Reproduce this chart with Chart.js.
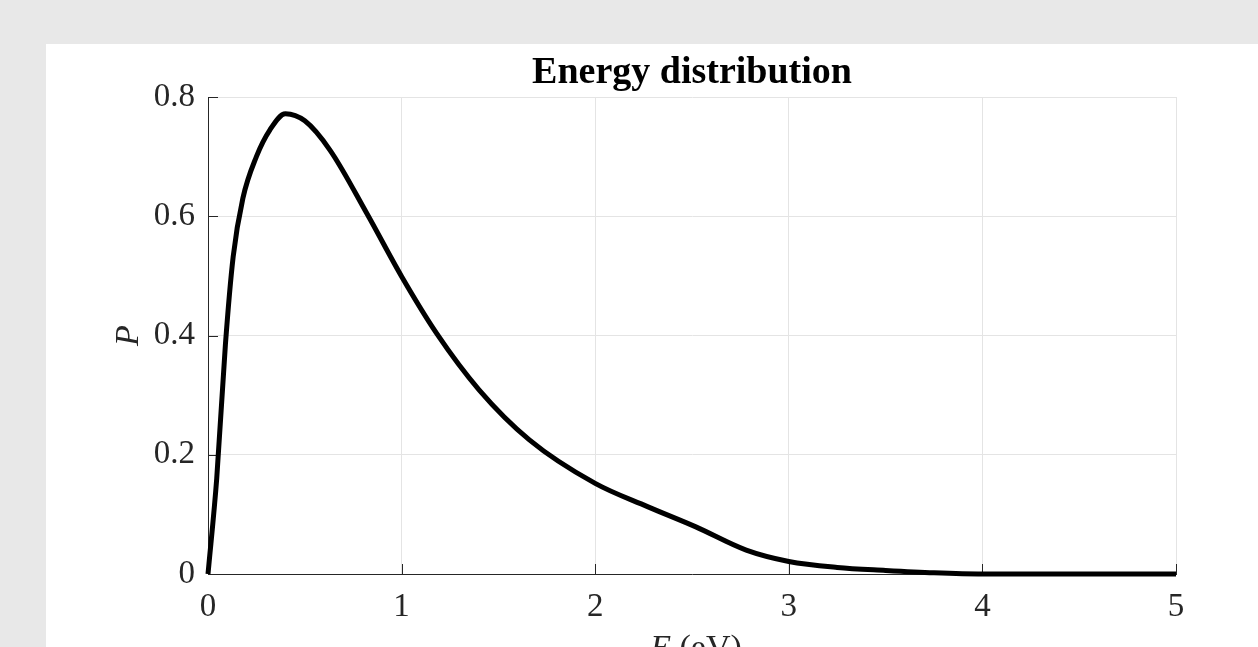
<!DOCTYPE html>
<html>
<head>
<meta charset="utf-8">
<script src="https://cdn.jsdelivr.net/npm/chart.js@4/dist/chart.umd.min.js"></script>
<style>
  html, body { margin: 0; padding: 0; overflow: hidden; background: #e8e8e8; }
  #fig { position: absolute; left: 46px; top: 44px; width: 1212px; height: 603px; background: #fff; }
</style>
</head>
<body>
<div id="fig"><canvas id="grafico" width="1212" height="603"></canvas></div>
<script>
// energy (eV) and probability
const energia = [0, 0.045, 0.09, 0.13, 0.18, 0.25, 0.32, 0.40, 0.50, 0.63, 0.82, 1.0, 1.18, 1.4, 1.66, 2.0, 2.27, 2.52, 2.78, 3.0, 3.25, 3.5, 3.75, 4.0, 4.5, 5.0];
const probabilidad = [0, 0.16, 0.385, 0.532, 0.63, 0.70, 0.745, 0.772, 0.76, 0.711, 0.605, 0.499, 0.404, 0.309, 0.225, 0.152, 0.113, 0.079, 0.040, 0.021, 0.011, 0.006, 0.002, 0, 0, 0];

const ticksX = [0, 1, 2, 3, 4, 5];
const ticksY = [0, 0.2, 0.4, 0.6, 0.8];

const titulo = 'Energy distribution';
const etiquetaX = ['E', ' (eV)'];
const etiquetaY = 'P';

const serif = '"Liberation Serif", "Times New Roman", serif';
const gris = '#262626';

// title, x label and inward tick marks
const extras = {
  id: 'extras',
  beforeDatasetsDraw(chart) {
    const { ctx, chartArea: a, scales } = chart;
    ctx.save();
    ctx.strokeStyle = gris;
    ctx.lineWidth = 1;
    ctx.beginPath();
    scales.x.ticks.forEach(t => {
      const px = Math.round(scales.x.getPixelForValue(t.value)) + 0.5;
      ctx.moveTo(px, a.bottom);
      ctx.lineTo(px, a.bottom - 10);
    });
    scales.y.ticks.forEach(t => {
      const py = Math.round(scales.y.getPixelForValue(t.value)) + 0.5;
      ctx.moveTo(a.left, py);
      ctx.lineTo(a.left + 10, py);
    });
    ctx.stroke();
    ctx.restore();
  },
  afterDraw(chart) {
    const { ctx, chartArea: a } = chart;
    const cx = (a.left + a.right) / 2;
    ctx.save();
    ctx.fillStyle = '#000';
    ctx.textBaseline = 'alphabetic';
    ctx.textAlign = 'center';
    ctx.font = 'bold 38px ' + serif;
    ctx.fillText(titulo, cx, 39);

    // x label: italic symbol then unit
    ctx.fillStyle = gris;
    ctx.textAlign = 'left';
    const fItal = 'italic 34px ' + serif;
    const fNorm = '34px ' + serif;
    ctx.font = fItal;
    const w1 = ctx.measureText(etiquetaX[0]).width;
    ctx.font = fNorm;
    const w2 = ctx.measureText(etiquetaX[1]).width;
    const x0 = cx - (w1 + w2) / 2 + 4;
    ctx.font = fItal;
    ctx.fillText(etiquetaX[0], x0, 614);
    ctx.font = fNorm;
    ctx.fillText(etiquetaX[1], x0 + w1, 614);
    ctx.restore();
  }
};

const ctx = document.getElementById('grafico').getContext('2d');

const chart = new Chart(ctx, {
  type: 'line',
  data: {
    datasets: [{
      data: energia.map((e, i) => ({ x: e, y: probabilidad[i] })),
      borderColor: '#000',
      borderWidth: 5,
      pointRadius: 0,
      fill: false,
      cubicInterpolationMode: 'monotone',
      clip: false
    }]
  },
  options: {
    responsive: false,
    animation: false,
    layout: { padding: { top: 53, right: 82, left: 0, bottom: 0 } },
    plugins: {
      legend: { display: false },
      tooltip: { enabled: false },
      title: { display: false }
    },
    scales: {
      x: {
        type: 'linear',
        min: 0,
        max: 5,
        afterBuildTicks: s => { s.ticks = ticksX.map(v => ({ value: v })); },
        afterFit: s => { s.height = 73; },
        ticks: {
          color: gris,
          font: { family: serif, size: 33 },
          padding: 14,
          maxRotation: 0,
          callback: v => String(v)
        },
        grid: { color: '#e4e4e4', lineWidth: 1, drawTicks: false },
        border: { display: true, color: gris, width: 1 }
      },
      y: {
        min: 0,
        max: 0.8,
        afterBuildTicks: s => { s.ticks = ticksY.map(v => ({ value: v })); },
        afterFit: s => { s.width = 162; },
        ticks: {
          color: gris,
          font: { family: serif, size: 33 },
          padding: 13,
          callback: v => String(v)
        },
        grid: { color: '#e4e4e4', lineWidth: 1, drawTicks: false },
        border: { display: true, color: gris, width: 1 },
        title: {
          display: true,
          text: etiquetaY,
          color: gris,
          font: { family: serif, size: 34, style: 'italic', lineHeight: 1 },
          padding: { top: 66, bottom: 0 }
        }
      }
    }
  },
  plugins: [extras]
});
</script>
</body>
</html>
